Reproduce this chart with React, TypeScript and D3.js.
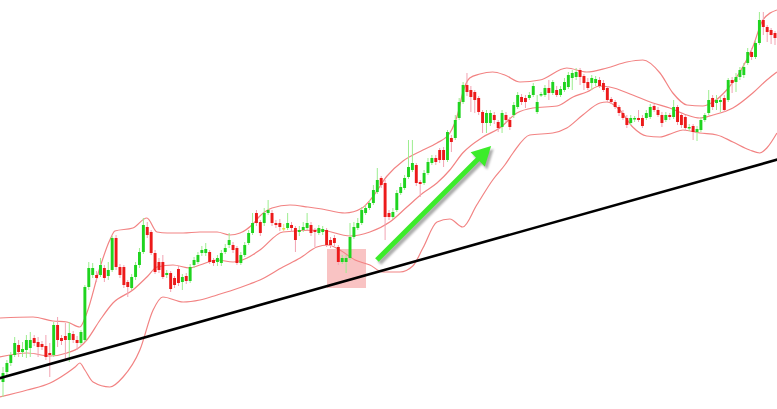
import React from 'react';
import * as d3 from 'd3';

// OHLC values, one per bar (oldest first)
const opens = [
  18, 28, 37, 45, 55, 48, 50, 52, 62, 58,
  56, 54, 47, 45, 75, 62, 64, 60, 66, 60,
  57, 60, 113, 125, 125, 125, 132, 124, 130, 162,
  133, 133, 118, 112, 123, 135, 148, 173, 168, 147,
  138, 138, 125, 127, 122, 131, 118, 124, 119, 135,
  138, 147, 147, 148, 140, 138, 137, 148, 155, 155,
  152, 137, 145, 157, 167, 187, 178, 177, 187, 187,
  177, 177, 172, 172, 175, 172, 168, 170, 172, 175,
  170, 167, 168, 170, 160, 162, 153, 138, 138, 142,
  163, 172, 177, 187, 192, 197, 208, 222, 217, 187,
  183, 190, 207, 212, 223, 230, 235, 218, 217, 227,
  237, 242, 250, 250, 240, 262, 262, 282, 298, 315,
  310, 308, 302, 288, 277, 277, 285, 278, 273, 285,
  280, 285, 293, 303, 302, 302, 305, 288, 305, 305,
  312, 307, 310, 305, 310, 313, 322, 323, 330, 324,
  318, 317, 317, 320, 317, 312, 301, 298, 293, 287,
  282, 277, 281, 282, 282, 282, 283, 294, 290, 285,
  280, 285, 283, 293, 285, 283, 272, 274, 268, 270,
  280, 287, 302, 297, 298, 302, 300, 320, 318, 323,
  325, 337, 348, 343, 357, 380, 373, 370, 367,
];
const highs = [
  33, 40, 48, 63, 60, 58, 65, 68, 65, 63,
  59, 65, 57, 78, 83, 65, 77, 78, 69, 64,
  70, 115, 138, 137, 129, 142, 135, 138, 164, 165,
  136, 135, 120, 126, 138, 152, 182, 178, 170, 150,
  142, 145, 130, 129, 124, 134, 126, 127, 136, 143,
  148, 154, 157, 150, 142, 145, 150, 156, 167, 158,
  154, 148, 158, 170, 187, 190, 180, 192, 200, 190,
  180, 181, 176, 187, 178, 174, 174, 178, 187, 178,
  172, 175, 174, 172, 163, 165, 155, 145, 145, 177,
  178, 182, 193, 195, 200, 215, 232, 224, 220, 190,
  192, 210, 217, 225, 260, 260, 237, 220, 230, 242,
  245, 245, 252, 253, 270, 265, 285, 302, 318, 327,
  314, 310, 304, 290, 290, 290, 288, 280, 290, 288,
  283, 298, 308, 306, 305, 308, 317, 305, 308, 315,
  320, 320, 314, 314, 322, 328, 330, 332, 332, 326,
  322, 325, 324, 323, 320, 314, 303, 300, 295, 290,
  285, 285, 284, 290, 285, 290, 296, 296, 293, 288,
  288, 287, 300, 295, 288, 285, 276, 276, 274, 283,
  287, 310, 305, 305, 303, 305, 322, 323, 327, 333,
  337, 352, 352, 360, 388, 388, 375, 372, 369,
];
const lows = [
  3, 25, 34, 43, 43, 43, 42, 43, 54, 43,
  50, 40, 23, 43, 53, 55, 40, 38, 57, 50,
  55, 58, 110, 122, 118, 123, 118, 120, 128, 130,
  122, 112, 103, 110, 120, 132, 146, 162, 145, 126,
  127, 121, 122, 108, 112, 114, 110, 116, 117, 132,
  136, 144, 144, 136, 134, 134, 134, 146, 152, 147,
  135, 135, 143, 155, 165, 174, 164, 174, 185, 174,
  172, 169, 169, 170, 168, 148, 164, 168, 170, 164,
  153, 165, 165, 153, 152, 154, 135, 136, 127, 140,
  161, 170, 175, 185, 190, 195, 206, 212, 160, 180,
  181, 188, 205, 210, 221, 228, 214, 203, 215, 225,
  235, 235, 237, 233, 238, 248, 260, 280, 296, 304,
  288, 287, 285, 267, 267, 274, 276, 268, 267, 277,
  270, 282, 291, 295, 292, 300, 303, 286, 303, 303,
  300, 305, 303, 303, 308, 311, 310, 320, 315, 310,
  310, 310, 314, 312, 308, 298, 296, 291, 284, 280,
  272, 275, 278, 278, 272, 280, 281, 288, 283, 273,
  278, 280, 281, 275, 272, 269, 269, 260, 259, 268,
  278, 285, 290, 290, 288, 288, 298, 307, 308, 320,
  322, 335, 340, 341, 355, 365, 358, 356, 355,
];
const closes = [
  27, 37, 45, 57, 48, 51, 60, 60, 57, 53,
  53, 43, 45, 75, 60, 59, 60, 67, 60, 57,
  68, 113, 132, 132, 122, 135, 122, 130, 162, 133,
  125, 115, 113, 123, 135, 148, 175, 165, 147, 128,
  130, 123, 127, 111, 115, 117, 123, 119, 133, 140,
  145, 150, 151, 138, 137, 142, 147, 152, 160, 150,
  137, 145, 155, 167, 177, 177, 167, 187, 190, 177,
  175, 173, 172, 177, 172, 160, 170, 173, 177, 167,
  168, 172, 171, 155, 155, 157, 138, 142, 142, 163,
  173, 177, 190, 192, 197, 210, 220, 215, 183, 183,
  188, 207, 213, 222, 233, 237, 217, 216, 227, 238,
  242, 238, 240, 240, 268, 258, 280, 298, 315, 308,
  303, 300, 288, 277, 287, 287, 280, 272, 287, 280,
  273, 295, 305, 298, 298, 305, 314, 298, 306, 312,
  307, 318, 305, 311, 318, 325, 327, 328, 323, 317,
  312, 322, 321, 314, 310, 300, 298, 293, 287, 282,
  275, 282, 282, 280, 274, 287, 293, 290, 285, 277,
  285, 283, 293, 278, 275, 272, 273, 268, 271, 280,
  285, 300, 293, 300, 300, 290, 320, 317, 323, 330,
  333, 348, 343, 357, 380, 373, 368, 365, 362,
];

// Bollinger bands, read as [bar index, price]
const upperBand: [number, number][] = [
  [-0.8, 82], [7.7, 83], [12.8, 79], [16.4, 78], [19.7, 73], [21.5, 87], [24.9, 133],
  [27.4, 160], [28.7, 169], [33.3, 172], [36.9, 182], [39.5, 168], [42.1, 167],
  [46.2, 167], [50.5, 168], [54.9, 168], [58.2, 165], [60.8, 167], [64.1, 176],
  [65.9, 184], [69, 192], [73.6, 195], [78.2, 193], [81.8, 191], [87.7, 187],
  [92.1, 192], [94.6, 202], [98.5, 224], [102.6, 239], [107.7, 250], [111.3, 257],
  [114.6, 267], [116.7, 287], [117.9, 307], [119.7, 322], [122.3, 326], [125.6, 328],
  [128.7, 325], [132.6, 318], [137.7, 320], [144.6, 332], [149.7, 328], [154.9, 332],
  [160, 338], [164.1, 340], [168.5, 327], [171.8, 307], [175.4, 295], [179.5, 294],
  [182.1, 298], [185.6, 310], [189, 328], [192.3, 353], [194.9, 380], [198.5, 390],
];
const middleBand: [number, number][] = [
  [-0.8, 43], [6.2, 47], [12.1, 44], [16.4, 47], [19.7, 53], [21.5, 60], [24.9, 80],
  [28.2, 97], [33.3, 110], [36.9, 123], [39.5, 133], [43.6, 135], [47.9, 132],
  [50.5, 135], [54.9, 140], [59, 138], [62.6, 142], [65.9, 150], [71.8, 168],
  [81.3, 170], [89, 164], [94.1, 168], [99.2, 178], [103.6, 193], [107.7, 207],
  [111.3, 217], [114.6, 230], [117.9, 247], [123.1, 263], [127.4, 272], [131.8, 287],
  [135.9, 292], [142.1, 294], [146.2, 303], [149.7, 308], [153.1, 314], [155.6, 313],
  [161.5, 305], [166.7, 297], [171, 292], [175.4, 285], [178.7, 282], [182.1, 285],
  [187.2, 292], [192.3, 307], [195.9, 320], [198.5, 328],
];
const lowerBand: [number, number][] = [
  [-0.8, 3], [6.2, 10], [12.1, 17], [16.4, 27], [18.5, 33], [19.7, 37], [21, 30],
  [23.1, 18], [27.4, 13], [30.8, 23], [35.1, 50], [38.5, 90], [41, 103], [46.2, 98],
  [50.5, 100], [54.9, 105], [59, 110], [63.3, 116], [65.9, 120], [71.8, 133],
  [76.2, 142], [80.5, 153], [83.3, 155], [86.4, 150], [90.3, 140], [94.1, 135],
  [97.4, 128], [101.8, 128], [105.1, 134], [107.7, 152], [111.3, 178], [114.6, 181],
  [117.9, 173], [121.5, 195], [125.6, 220], [128.7, 235], [130.8, 247], [135.1, 265],
  [141, 267], [144.6, 272], [148.7, 285], [153.1, 297], [154.9, 298], [158.2, 290],
  [161.5, 273], [165.1, 264], [168.5, 263], [171.8, 267], [174.4, 270], [178.7, 267],
  [183.1, 265], [187.2, 258], [191.5, 250], [194.1, 247], [195.9, 252], [198.5, 267],
];

// Annotations, in [bar index, price]
const trendLine: [number, number][] = [[-1, 21.7], [199, 240.9]];
const arrowFrom: [number, number] = [95.9, 140];
const arrowTo: [number, number] = [125.2, 254];
const boxBars: [number, number] = [83.1, 93.1];
const boxPrices: [number, number] = [112, 151];

const W = 777;
const H = 409;

export default function App() {
  const x = d3.scaleLinear().domain([0, opens.length - 1]).range([3, 775]);
  const y = d3.scaleLinear().domain([0, 400]).range([400, 0]);
  const step = x(1) - x(0);
  const bodyW = step * 0.75;

  const bandLine = d3.line<[number, number]>()
    .x(d => x(d[0]))
    .y(d => y(d[1]))
    .curve(d3.curveMonotoneX);

  // arrow geometry
  const p0 = [x(arrowFrom[0]), y(arrowFrom[1])];
  const p1 = [x(arrowTo[0]), y(arrowTo[1])];
  const len = Math.hypot(p1[0] - p0[0], p1[1] - p0[1]);
  const ux = (p1[0] - p0[0]) / len;
  const uy = (p1[1] - p0[1]) / len;
  const headLen = 19;
  const headHalf = 10;
  const base = [p1[0] - ux * headLen, p1[1] - uy * headLen];
  const nx = -uy;
  const ny = ux;
  const head = [
    [p1[0], p1[1]],
    [base[0] + nx * headHalf, base[1] + ny * headHalf],
    [base[0] - nx * headHalf, base[1] - ny * headHalf],
  ].map(p => p.join(',')).join(' ');

  const arrowShape = (fill: string) => (
    <>
      <line x1={p0[0]} y1={p0[1]} x2={base[0] + ux * 2} y2={base[1] + uy * 2}
        stroke={fill} strokeWidth={5} strokeLinecap="butt" />
      <polygon points={head} fill={fill} />
    </>
  );

  return (
    <div style={{ width: W, height: H, background: '#fff' }}>
      <style>{'body{margin:0;background:#fff}'}</style>
      <svg width={W} height={H} style={{ display: 'block' }}>
        <defs>
          <filter id="shadow" x="-20%" y="-20%" width="140%" height="140%">
            <feGaussianBlur stdDeviation="1.2" />
          </filter>
        </defs>
        <rect width={W} height={H} fill="#fff" />

        {/* highlight box */}
        <rect
          x={x(boxBars[0])}
          y={y(boxPrices[1])}
          width={x(boxBars[1]) - x(boxBars[0])}
          height={y(boxPrices[0]) - y(boxPrices[1])}
          fill="#f9c3c3"
        />

        {/* bands */}
        {[upperBand, middleBand, lowerBand].map((b, i) => (
          <path key={i} d={bandLine(b) || ''} fill="none" stroke="#f28383" strokeWidth={1.2} />
        ))}

        {/* candles */}
        {opens.map((o, i) => {
          const c = closes[i];
          const up = c > o;
          const flat = c === o;
          const body = flat ? '#e8d83a' : up ? '#1fd41f' : '#ec1a1a';
          const wick = flat ? '#ece080' : up ? '#9ced8f' : '#f2a3b2';
          const cx = x(i);
          const top = y(Math.max(o, c));
          const bot = y(Math.min(o, c));
          return (
            <g key={i}>
              <line x1={cx} x2={cx} y1={y(highs[i])} y2={y(lows[i])} stroke={wick} strokeWidth={1} />
              <rect x={cx - bodyW / 2} y={top} width={bodyW} height={Math.max(1.5, bot - top)} fill={body} />
            </g>
          );
        })}

        {/* trend line */}
        <line
          x1={x(trendLine[0][0])} y1={y(trendLine[0][1])}
          x2={x(trendLine[1][0])} y2={y(trendLine[1][1])}
          stroke="#000" strokeWidth={2.6}
        />

        {/* arrow with shadow */}
        <g transform="translate(2.5,3)" opacity={0.55} filter="url(#shadow)">
          {arrowShape('#6a6a6a')}
        </g>
        {arrowShape('#3cec2a')}
      </svg>
    </div>
  );
}
